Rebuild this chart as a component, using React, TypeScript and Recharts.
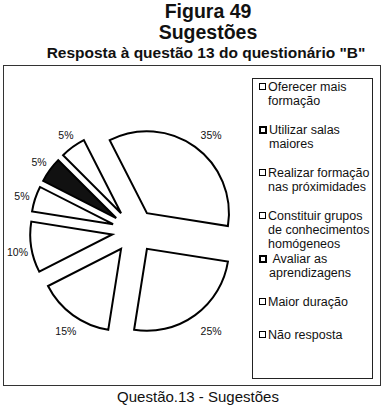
import React from "react";
import { PieChart, Pie, Cell, Sector, Legend } from "recharts";

// Questão 13 – categorias pela ordem da legenda
const categories = [
  "Oferecer mais formação",
  "Utilizar salas maiores",
  "Realizar formação nas próximidades",
  "Constituir grupos de conhecimentos homógeneos",
  "Avaliar as aprendizagens",
  "Maior duração",
  "Não resposta",
];
const percentages = [5, 5, 5, 35, 25, 15, 10];
const legendLines = [
  ["Oferecer mais", "formação"],
  ["Utilizar salas", "maiores"],
  ["Realizar formação", "nas próximidades"],
  ["Constituir grupos", "de conhecimentos", "homógeneos"],
  ["\u00a0Avaliar as", "aprendizagens"],
  ["Maior duração"],
  ["Não resposta"],
];

const sliceFills = ["#fff", "#111", "#fff", "#fff", "#fff", "#fff", "#fff"];
const boldSwatch = [false, true, false, false, true, false, false];

const data = categories.map((name, i) => ({ name, value: percentages[i] }));

const FONT = "Arial, 'Liberation Sans', Helvetica, sans-serif";
const RAD = Math.PI / 180;
const EXPLODE = 22;

const offset = (midAngle: number, r: number) => ({
  dx: r * Math.cos(-midAngle * RAD),
  dy: r * Math.sin(-midAngle * RAD),
});

const ExplodedSector = (props: any) => {
  const { cx, cy, midAngle, innerRadius, outerRadius, startAngle, endAngle, fill } = props;
  const { dx, dy } = offset(midAngle, EXPLODE);
  return (
    <Sector
      cx={cx + dx}
      cy={cy + dy}
      innerRadius={innerRadius}
      outerRadius={outerRadius}
      startAngle={startAngle}
      endAngle={endAngle}
      fill={fill}
      stroke="#000"
      strokeWidth={2}
      strokeLinejoin="miter"
    />
  );
};

const renderLabel = (props: any) => {
  const { cx, cy, midAngle, outerRadius, value } = props;
  const e = offset(midAngle, EXPLODE);
  const p = offset(midAngle, outerRadius + 17);
  // rótulos do lado direito ficam um pouco mais afastados, como no Excel
  const shift = p.dx > 0 ? 6 : 3;
  return (
    <text
      x={cx + e.dx + p.dx + shift}
      y={cy + e.dy + p.dy + 2}
      textAnchor="middle"
      dominantBaseline="central"
      fontSize={10.5}
      fontFamily={FONT}
      fill="#111"
    >
      {value}%
    </text>
  );
};

const LegendBox = () => (
  <div
    style={{
      width: 119,
      height: 298,
      border: "1px solid #222",
      background: "#fff",
      paddingTop: 1,
      boxSizing: "content-box",
      fontFamily: FONT,
      fontSize: 12.5,
      lineHeight: "14px",
      color: "#111",
    }}
  >
    {legendLines.map((lines, i) => (
      <div
        key={categories[i]}
        style={{
          display: "flex",
          marginBottom: lines.length === 3 ? 1 : lines.length === 1 ? 19 : 15,
        }}
      >
        <div
          style={{
            width: boldSwatch[i] ? 4 : 5,
            height: boldSwatch[i] ? 4 : 5,
            border: boldSwatch[i] ? "2px solid #000" : "1px solid #000",
            marginLeft: 6,
            marginTop: 3,
            marginRight: 2,
            flexShrink: 0,
            boxSizing: "content-box",
          }}
        />
        <div style={{ whiteSpace: "nowrap" }}>
          {lines.map((l) => (
            <div key={l}>{l}</div>
          ))}
        </div>
      </div>
    ))}
  </div>
);

const centered = (left: number, top: number, size: number, bold: boolean): React.CSSProperties => ({
  position: "absolute",
  left,
  top,
  transform: "translateX(-50%)",
  whiteSpace: "nowrap",
  fontFamily: FONT,
  fontSize: size,
  lineHeight: `${size}px`,
  fontWeight: bold ? "bold" : "normal",
  color: "#111",
});

export default function App() {
  return (
    <div
      style={{
        position: "fixed",
        left: 0,
        top: 0,
        width: 389,
        height: 407,
        background: "#fff",
        overflow: "hidden",
      }}
    >
      <div style={centered(208, 2, 19.5, true)}>Figura 49</div>
      <div style={centered(208, 23, 19.5, true)}>Sugestões</div>
      <div style={centered(206, 45, 15.5, true)}>Resposta à questão 13 do questionário "B"</div>
      <div
        style={{
          position: "absolute",
          left: 3,
          top: 65,
          width: 376,
          height: 319,
          border: "1.5px solid #333",
        }}
      />
      <div style={{ position: "absolute", left: 0, top: 0 }}>
        <PieChart width={389} height={407} margin={{ top: 0, right: 0, bottom: 0, left: 0 }}>
          <Pie
            data={data}
            dataKey="value"
            nameKey="name"
            cx={134}
            cy={231}
            outerRadius={82}
            startAngle={-189}
            endAngle={-549}
            shape={ExplodedSector}
            inactiveShape={ExplodedSector}
            activeShape={ExplodedSector}
            label={renderLabel}
            labelLine={false}
            isAnimationActive={false}
          >
            {data.map((d, i) => (
              <Cell key={d.name} fill={sliceFills[i]} />
            ))}
          </Pie>
          <Legend
            content={() => <LegendBox />}
            wrapperStyle={{ position: "absolute", left: 252, top: 78, width: 121, height: 300 }}
          />
        </PieChart>
      </div>
      <div style={centered(198, 389, 15, false)}>Questão.13 - Sugestões</div>
    </div>
  );
}
